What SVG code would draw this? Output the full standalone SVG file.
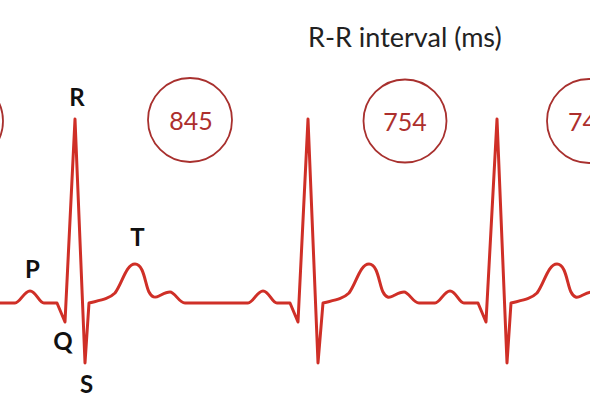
<svg xmlns="http://www.w3.org/2000/svg" width="590" height="410" viewBox="0 0 590 410">
<style>
.bg{fill:#ffffff}
.ecg{fill:none;stroke:#cf2f27;stroke-width:3;stroke-linejoin:round;stroke-linecap:round}
.ring{fill:none;stroke:#a8302e;stroke-width:1.8}
.num{font-family:Lato,"Liberation Sans",sans-serif;font-size:25px;fill:#ad2f2d;text-anchor:middle}
.lbl{font-family:Lato,"Liberation Sans",sans-serif;font-size:24px;font-weight:bold;fill:#111111;text-anchor:middle}
.title{font-family:Lato,"Liberation Sans",sans-serif;font-size:27px;fill:#222222}
</style>
<rect class="bg" x="0" y="0" width="590" height="410"/>
<g id="title"><text class="title" x="308" y="47">R-R interval (ms)</text></g>
<g id="connectors">
<path class="ecg" d="M0,303 L15,303 C20,303 24,291 30,291 C36,291 39,303 44,303 L57,303 L65,322 L75,119 L85,363 L89,303 C101,300 109,299 115,293 C122,284 126,264 135,264 C144,264 145,284 149,292 C152,298 155,298 159,296 C163,294 166,292 170,292 C175,292 179,303 185,303 L248,303 C253,303 257,291 263,291 C269,291 272,303 277,303 L290,303 L298,322 L308,119 L318,363 L323,303 C335,300 343,299 349,293 C356,284 360,264 369,264 C378,264 379,284 383,292 C386,298 389,298 393,296 C397,294 400,292 404,292 C409,292 413,303 419,303 L435,303 C440,303 444,291 450,291 C456,291 459,303 464,303 L478,303 L486,322 L497,119 L507,363 L511,303 C523,300 531,299 537,293 C544,284 548,264 557,264 C566,264 567,284 571,292 C574,298 577,298 581,296 C585,294 588,292 592,292 C597,292 601,303 607,303"/>
</g>
<g id="rr-prev"><circle class="ring" cx="-39" cy="121" r="42"/></g>
<g id="rr-845"><circle class="ring" cx="190" cy="120" r="42"/><text class="num" x="191" y="130">845</text></g>
<g id="rr-754"><circle class="ring" cx="405" cy="121" r="41.5"/><text class="num" x="405" y="131">754</text></g>
<g id="rr-next"><circle class="ring" cx="589" cy="121" r="42"/><text class="num" x="568" y="131" style="text-anchor:start">74</text></g>
<g id="label-R"><text class="lbl" x="77" y="106">R</text></g>
<g id="label-P"><text class="lbl" x="32.5" y="278">P</text></g>
<g id="label-T"><text class="lbl" x="137.5" y="246">T</text></g>
<g id="label-Q"><text class="lbl" x="63" y="350">Q</text></g>
<g id="label-S"><text class="lbl" x="86.5" y="393">S</text></g>
</svg>
